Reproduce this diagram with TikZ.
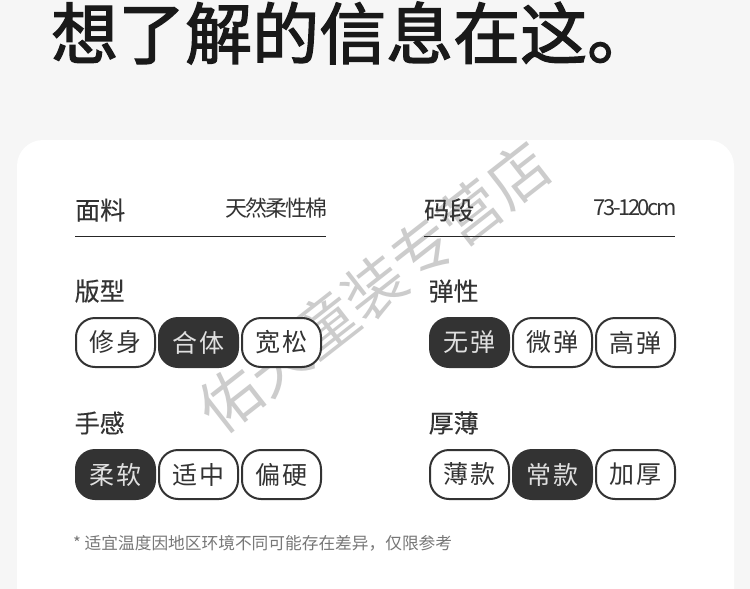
\documentclass[tikz,border=0pt]{standalone}
\usepackage{fontspec}
\setmainfont{Noto Sans CJK SC}
\newfontfamily\titlefont[FakeBold=2]{Noto Sans CJK SC}
\newfontfamily\headfont[FakeBold=0.3]{Noto Sans CJK SC}
\newfontfamily\pillfont[LetterSpace=7]{Noto Sans CJK SC}
\definecolor{pagebg}{HTML}{F6F6F6}
\definecolor{ink}{HTML}{333333}
\definecolor{wm}{HTML}{CCCCCC}
\definecolor{notegray}{HTML}{777777}
\tikzset{
  pill/.style={draw=ink,line width=2pt,rounded corners=19pt,fill=white,text=ink,minimum width=79pt,minimum height=49pt,inner sep=0pt,font=\fontsize{25}{25}\pillfont,anchor=center},
  pillon/.style={pill,fill=ink,text=white!85!ink},
  head/.style={text=ink,inner sep=0pt,font=\fontsize{25}{25}\headfont,anchor=west},
  val/.style={text=ink,inner sep=0pt,font=\fontsize{22}{22}\selectfont,anchor=east},
  rule/.style={draw=black!85,line width=1.2pt}
}
\begin{document}
\begin{tikzpicture}[x=1pt,y=-1pt]
\useasboundingbox (0,0) rectangle (750,589);
\fill[pagebg] (0,0) rectangle (750,589);
\fill[white,rounded corners=26pt] (17,140) rectangle (734,640);
\node[inner sep=0pt,anchor=west,text=black!90,font=\fontsize{67}{67}\titlefont] (title) at (51,33) {想了解的信息在这。};
\node[rotate=38,text=wm,inner sep=0pt,font=\fontsize{61}{61}\selectfont] (mark) at (374,287) {佑天童装专营店};
\node[head] (h1) at (75,210) {面料};
\node[val] (v1) at (328,208) {\addfontfeature{LetterSpace=-9}天然柔性棉};
\coordinate (r1a) at (75,236.5); \coordinate (r1b) at (326,236.5);
\draw[rule] (r1a) -- (r1b);
\node[head] (h2) at (424,210) {码段};
\node[val] (v2) at (677,208) {\addfontfeature{LetterSpace=-11}73-120cm};
\coordinate (r2a) at (424,236.5); \coordinate (r2b) at (675,236.5);
\draw[rule] (r2a) -- (r2b);
\node[head] (h3) at (74.5,291) {版型};
\node[head] (h4) at (428.5,291) {弹性};
\node[head] (h5) at (74.5,423) {手感};
\node[head] (h6) at (428.5,423) {厚薄};
\node[pill] (a1) at (115.5,342.5) {修身};
\node[pillon] (a2) at (198.5,342.5) {合体};
\node[pill] (a3) at (281.5,342.5) {宽松};
\node[pillon] (b1) at (469.5,342.5) {无弹};
\node[pill] (b2) at (552.5,342.5) {微弹};
\node[pill] (b3) at (635.5,342.5) {高弹};
\node[pillon] (c1) at (115.5,474.5) {柔软};
\node[pill] (c2) at (198.5,474.5) {适中};
\node[pill] (c3) at (281.5,474.5) {偏硬};
\node[pill] (d1) at (469.5,474.5) {薄款};
\node[pillon] (d2) at (552.5,474.5) {常款};
\node[pill] (d3) at (635.5,474.5) {加厚};
\node[inner sep=0pt,anchor=west,text=notegray,font=\fontsize{16.7}{17}\selectfont] (note) at (73,543.5) {* 适宜温度因地区环境不同可能存在差异，仅限参考};
\end{tikzpicture}
\end{document}
